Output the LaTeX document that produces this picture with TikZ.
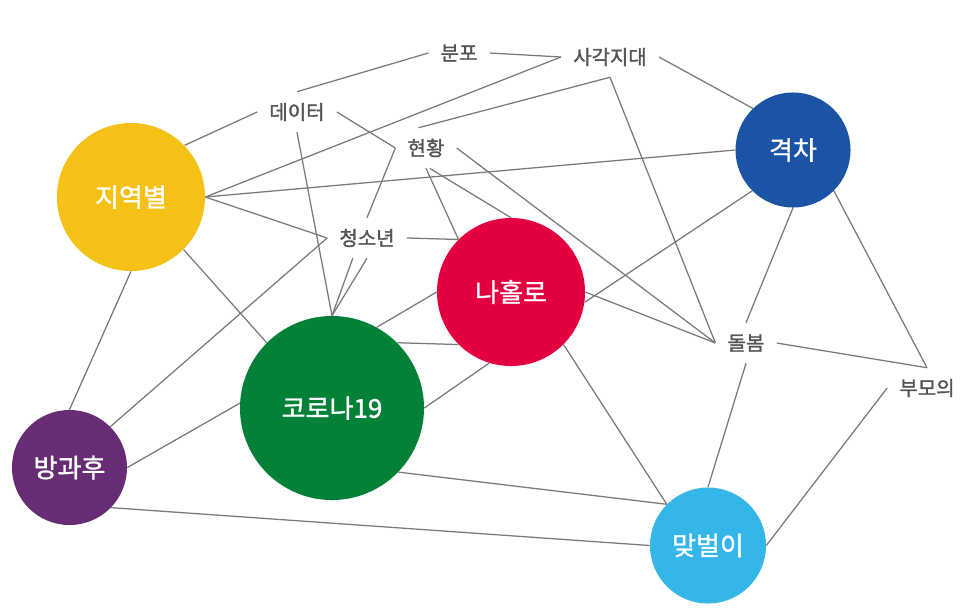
\documentclass[tikz,border=0pt]{standalone}
\usepackage{fontspec}
\setmainfont{Noto Sans CJK KR}
\newfontfamily\labelfont[FakeBold=1.6]{Noto Sans CJK KR}
\newfontfamily\hubfont[FakeBold=1.2]{Noto Sans CJK KR}
\usetikzlibrary{backgrounds}
\definecolor{textgray}{HTML}{555555}
\definecolor{linegray}{HTML}{7A7A7A}
\definecolor{hubyellow}{HTML}{F5C116}
\definecolor{hubblue}{HTML}{1B54A5}
\definecolor{hubred}{HTML}{E40040}
\definecolor{hubgreen}{HTML}{038139}
\definecolor{hubpurple}{HTML}{682C74}
\definecolor{hubcyan}{HTML}{34B7E8}

\begin{document}
\begin{tikzpicture}[
    x=0.025cm, y=-0.025cm,
    hub/.style={circle, fill=#1, inner sep=0pt, text=white, font=\hubfont\fontsize{18.5}{20}\selectfont},
    word/.style={rectangle, inner xsep=0.3cm, inner ysep=0pt, minimum height=1cm, text=textgray, font=\labelfont\fontsize{14.2}{16}\selectfont},
    link/.style={draw=linegray, line width=0.9pt}
]
    \useasboundingbox (0,0) rectangle (978,613);

    \node[hub=hubyellow, minimum size=3.7cm] (region) at (131,197) {지역별};
    \node[hub=hubblue, minimum size=2.875cm] (gap) at (793,150) {격차};
    \node[hub=hubred, minimum size=3.7cm] (alone) at (511,292) {나홀로};
    \node[hub=hubgreen, minimum size=4.6cm] (covid) at (332,408) {코로나19};
    \node[hub=hubpurple, minimum size=2.875cm] (after) at (69.5,467.5) {방과후};
    \node[hub=hubcyan, minimum size=2.9cm] (dual) at (708,545.5) {맞벌이};

    \node[word] (spread) at (459,53) {분포};
    \node[word] (blind) at (610,57) {사각지대};
    \node[word] (data) at (297,112) {데이터};
    \node[word] (status) at (426,148) {현황};
    \node[word] (youth) at (367,238) {청소년};
    \node[word] (care) at (746,343) {돌봄};
    \node[word] (parents) at (927,388) {부모의};

    \begin{scope}[on background layer]
    \draw[link] (spread.west) -- (data.north);
    \draw[link] (spread.east) -- (blind.west);
    \draw[link] (blind.west) -- (region.east);
    \draw[link] (blind.south) -- (status.110);
    \draw[link] (blind.south) -- (care.west);
    \draw[link] (blind.east) -- (gap.134);
    \draw[link] (data.west) -- (region.44);
    \draw[link] (data.east) -- (status.west);
    \draw[link] (data.south) -- (covid.north);
    \draw[link] (status.west) -- (youth.north);
    \draw[link] (status.south) -- (alone.135);
    \draw[link] (status.-80) -- (alone.north);
    \draw[link] (status.east) -- (care.west);
    \draw[link] (region.east) -- (gap.west);
    \draw[link] (region.east) -- (youth.west);
    \draw[link] (region.-45) -- (covid.135);
    \draw[link] (region.south) -- (after.north);
    \draw[link] (youth.west) -- (after.45);
    \draw[link] (youth.east) -- (alone.135);
    \draw[link] (youth.235) -- (covid.north);
    \draw[link] (youth.south) -- (covid.north);
    \draw[link] (covid.61) -- (alone.west);
    \draw[link] (covid.45) -- (alone.225);
    \draw[link] (covid.east) -- (alone.253);
    \draw[link] (covid.-44) -- (dual.135);
    \draw[link] (covid.177) -- (after.east);
    \draw[link] (after.-44) -- (dual.west);
    \draw[link] (alone.-45) -- (dual.135);
    \draw[link] (alone.east) -- (care.west);
    \draw[link] (alone.-8) -- (gap.225);
    \draw[link] (gap.south) -- (care.north);
    \draw[link] (gap.-45) -- (parents.north);
    \draw[link] (care.east) -- (parents.north);
    \draw[link] (care.south) -- (dual.north);
    \draw[link] (parents.west) -- (dual.east);
    \end{scope}
\end{tikzpicture}
\end{document}
